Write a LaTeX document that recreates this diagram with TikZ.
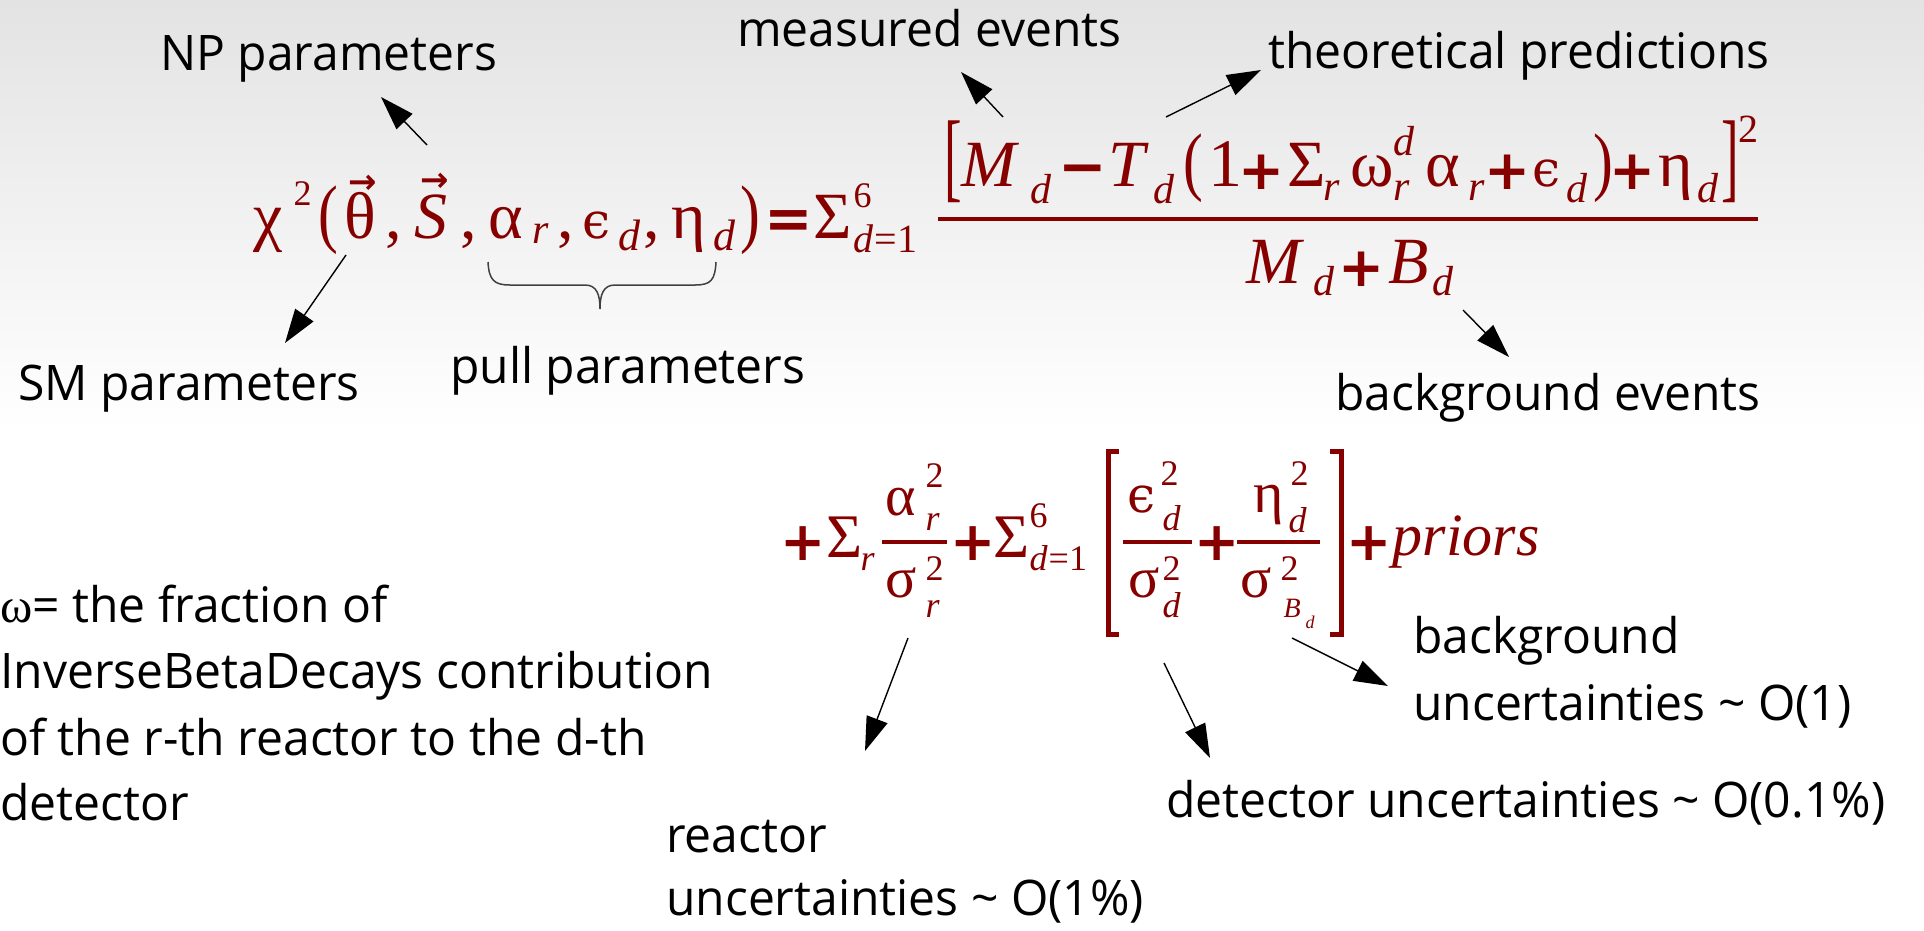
\documentclass[tikz,border=0pt]{standalone}
\usepackage{fontspec}
\usepackage{graphicx}
\usetikzlibrary{arrows.meta}
\setmainfont{Liberation Serif}
\newfontfamily\lab[FakeStretch=0.98]{Open Sans}
\newfontfamily\mf{Liberation Serif}
\newfontfamily\dvs{DejaVu Serif}
\newfontfamily\dvsans{DejaVu Sans}
\definecolor{mred}{RGB}{135,0,0}
\newcommand\pp[3]{\rlap{\hspace*{#1pt}\raisebox{#2pt}{#3}}\ignorespaces}
\newcommand\gR[4]{\pp{#1}{#2}{\mf\fontsize{#3}{#3}\selectfont #4}}
\newcommand\gB[4]{\pp{#1}{#2}{\dvsans\bfseries\fontsize{#3}{#3}\selectfont #4}}
\newcommand\gI[4]{\pp{#1}{#2}{\mf\itshape\fontsize{#3}{#3}\selectfont #4}}
\newcommand\gE[3]{\pp{#1}{#2}{\dvs\fontsize{#3}{#3}\selectfont ϵ}}
\newcommand\gV[2]{\pp{#1}{#2}{\dvsans\bfseries\fontsize{34}{34}\selectfont →}}
\newcommand\gP[6]{\pp{#1}{#2}{\scalebox{#4}[#5]{\mf\fontsize{#3}{#3}\selectfont #6}}}
\tikzset{
  lbl/.style={inner sep=0pt, anchor=base west, font=\lab\fontsize{49}{49}\selectfont},
  frm/.style={inner sep=0pt, anchor=base west, text=mred},
  arr/.style={-{Triangle[length=34pt,width=22pt]}, line width=1.4pt},
  bar/.style={mred, line width=4pt},
  brk/.style={mred, line width=5pt},
}
\begin{document}
\begin{tikzpicture}[x=1pt,y=-1pt]
\useasboundingbox (0,0) rectangle (1924,930);
\fill[white] (0,0) rectangle (1924,930);
\shade[top color=black!11, bottom color=white] (0,0) rectangle (1924,430);

% line 1, left part
\node[frm] (f1) at (0,238) {%
\gR{253}{0}{66}{χ}
\gR{293}{33}{36}{2}
\gP{318}{0}{66}{0.9}{1.15}{(}
\gR{344}{0}{66}{θ}
\gV{348}{45}
\gR{385}{0}{66}{,}
\gI{414}{0}{66}{S}
\gV{420}{47}
\gR{460}{0}{66}{,}
\gR{488}{0}{66}{α}
\gI{532}{-5}{42}{r}
\gR{557}{0}{66}{,}
\gE{582}{0}{50}
\gI{618}{-12}{44}{d}
\gR{643}{0}{66}{,}
\gR{671}{0}{66}{η}
\gI{713}{-12}{44}{d}
\gP{740}{0}{66}{0.9}{1.15}{)}
\gB{764}{0}{58}{=}
\gR{813}{0}{66}{Σ}
\gR{853}{31}{36}{6}
\gI{853}{-14}{40}{d}
\gR{874}{-14}{40}{=1}
};
% numerator
\node[frm] (num) at (0,186) {%
\gP{944}{-3}{66}{0.8}{1.5}{[}
\gI{961}{0}{66}{M}
\gI{1030}{-17}{42}{d}
\gB{1058}{0}{58}{−}
\gI{1108}{0}{66}{T}
\gI{1153}{-17}{42}{d}
\gP{1183}{0}{66}{0.9}{1.15}{(}
\gR{1208}{0}{68}{1}
\gB{1238}{-3}{55}{+}
\gR{1287}{0}{66}{Σ}
\gI{1323}{-14}{42}{r}
\gR{1350}{0}{66}{ω}
\gI{1393}{31}{42}{d}
\gI{1393}{-14}{42}{r}
\gR{1425}{0}{66}{α}
\gI{1468}{-14}{42}{r}
\gB{1484}{-3}{55}{+}
\gE{1532}{0}{50}
\gI{1566}{-16}{42}{d}
\gP{1593}{0}{66}{0.9}{1.15}{)}
\gB{1609}{-3}{55}{+}
\gR{1658}{0}{66}{η}
\gI{1697}{-16}{42}{d}
\gP{1721}{-3}{66}{0.8}{1.5}{]}
\gR{1738}{44}{40}{2}
};
\draw[bar] (938,219) -- (1758,219);
% denominator
\node[frm] (den) at (0,283) {%
\gI{1246}{0}{66}{M}
\gI{1313}{-12}{42}{d}
\gB{1338}{-3}{55}{+}
\gI{1388}{0}{66}{B}
\gI{1432}{-12}{42}{d}
};
% line 2
\node[frm] (f2) at (0,557) {%
\gB{780}{-3}{54}{+}
\gR{826}{0}{62}{Σ}
\gI{860}{-13}{36}{r}
\gR{885}{42}{58}{α}
\gR{925}{70}{36}{2}
\gI{925}{27}{36}{r}
\gR{885}{-40}{58}{σ}
\gR{925}{-23}{36}{2}
\gI{925}{-60}{36}{r}
\gB{950}{-3}{54}{+}
\gR{993}{0}{62}{Σ}
\gR{1029}{30}{36}{6}
\gI{1029}{-13}{36}{d}
\gR{1048}{-13}{36}{=1}
\gE{1127}{45}{50}
\gR{1160}{72}{36}{2}
\gI{1162}{27}{36}{d}
\gR{1128}{-40}{58}{σ}
\gR{1162}{-23}{36}{2}
\gI{1162}{-60}{36}{d}
\gB{1194}{-3}{54}{+}
\gR{1253}{45}{58}{η}
\gR{1290}{72}{36}{2}
\gI{1288}{25}{36}{d}
\gR{1240}{-40}{58}{σ}
\gR{1280}{-23}{36}{2}
\gI{1283}{-60}{28}{B}
\gI{1305}{-71}{18}{d}
\gB{1346}{-3}{54}{+}
\gI{1392}{2}{60}{priors}
};
\draw[bar] (882,542) -- (947,542);
\draw[bar] (1123,542) -- (1192,542);
\draw[bar] (1237,542) -- (1320,542);
\draw[brk] (1119,451) -- (1108,451) -- (1108,634) -- (1119,634);
\draw[brk] (1330,451) -- (1341,451) -- (1341,634) -- (1330,634);

% brace under pull parameters
\draw[line width=1.5pt, black!75] (488,262) .. controls (489,280) and (494,285) .. (510,285) -- (585,285) .. controls (597,285) and (600,295) .. (600,309) .. controls (600,295) and (603,285) .. (615,285) -- (695,285) .. controls (711,285) and (715,280) .. (716,262);

% labels
\node[lbl] (np) at (160,70) {NP parameters};
\node[lbl] (me) at (737,46) {measured events};
\node[lbl] (tp) at (1268,68) {theoretical predictions};
\node[lbl] (sm) at (18,400) {SM parameters};
\node[lbl] (pull) at (450,383) {pull parameters};
\node[lbl] (bge) at (1335,410) {background events};
\node[lbl] (w1) at (0,622) {{\mf ω}= the fraction of};
\node[lbl] (w2) at (0,688) {InverseBetaDecays contribution};
\node[lbl] (w3) at (0,755) {of the r-th reactor to the d-th};
\node[lbl] (w4) at (0,820) {detector};
\node[lbl] (re1) at (666,852) {reactor};
\node[lbl] (re2) at (666,915) {uncertainties \textasciitilde{} O(1\%)};
\node[lbl] (de) at (1166,817) {detector uncertainties \textasciitilde{} O(0.1\%)};
\node[lbl] (bu1) at (1413,653) {background};
\node[lbl] (bu2) at (1413,720) {uncertainties \textasciitilde{} O(1)};

% arrows
\coordinate (npS) at (427,145); \coordinate (npT) at (381,97);
\coordinate (smS) at (346,255); \coordinate (smT) at (285,343);
\coordinate (meS) at (1003,117); \coordinate (meT) at (961,72);
\coordinate (tpS) at (1166,117); \coordinate (tpT) at (1261,70);
\coordinate (bgS) at (1463,310); \coordinate (bgT) at (1509,357);
\coordinate (reS) at (908,638); \coordinate (reT) at (865,751);
\coordinate (deS) at (1164,663); \coordinate (deT) at (1210,758);
\coordinate (buS) at (1292,638); \coordinate (buT) at (1388,686);
\draw[arr] (npS) -- (npT);
\draw[arr] (smS) -- (smT);
\draw[arr] (meS) -- (meT);
\draw[arr] (tpS) -- (tpT);
\draw[arr] (bgS) -- (bgT);
\draw[arr] (reS) -- (reT);
\draw[arr] (deS) -- (deT);
\draw[arr] (buS) -- (buT);
\end{tikzpicture}
\end{document}
